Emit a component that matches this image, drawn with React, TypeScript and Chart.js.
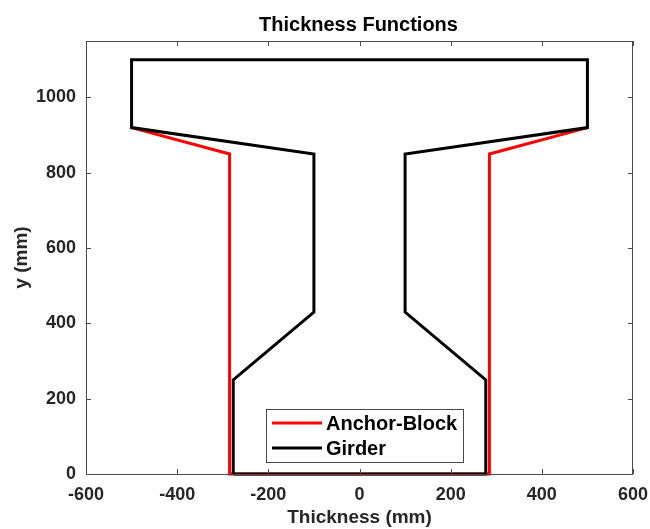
import React, { useEffect, useRef } from "react";
import { Chart, registerables } from "chart.js";

Chart.register(...registerables);

// ---- data ----
const seriesLabels = ["Anchor-Block", "Girder"];
const anchorX = [-500, -285, -285, 285, 285, 500];
const anchorY = [920, 850, 0, 0, 850, 920];
const girderX = [-277, -277, -100, -100, -500, -500, 500, 500, 100, 100, 277, 277, -277];
const girderY = [0, 250, 430, 850, 920, 1100, 1100, 920, 850, 430, 250, 0, 0];
const xRange = [-600, 600];
const yRange = [0, 1150];
const tickStep = 200;
const titleText = "Thickness Functions";
const xTitle = "Thickness (mm)";
const yTitle = "y (mm)";

const FONT = "'Liberation Sans', Arial, Helvetica, sans-serif";
const TEXT = "#262626";
const AXIS = "#4a4a4a";

const toPoints = (xs: number[], ys: number[]) => xs.map((x, i) => ({ x, y: ys[i] }));

const framePlugin = {
  id: "matlabFrame",
  afterDraw(chart: any) {
    const { ctx, chartArea: a, scales } = chart;
    ctx.save();
    // frame
    ctx.strokeStyle = AXIS;
    ctx.lineWidth = 1;
    ctx.strokeRect(a.left + 0.5, a.top + 0.5, a.right - a.left - 1, a.bottom - a.top);
    // inward ticks
    const tl = 5;
    ctx.beginPath();
    scales.x.ticks.forEach((t: any) => {
      const px = Math.round(scales.x.getPixelForValue(t.value)) + 0.5;
      ctx.moveTo(px, a.bottom);
      ctx.lineTo(px, a.bottom - tl);
      ctx.moveTo(px, a.top);
      ctx.lineTo(px, a.top + tl);
    });
    scales.y.ticks.forEach((t: any) => {
      const py = Math.round(scales.y.getPixelForValue(t.value)) + 0.5;
      ctx.moveTo(a.left, py);
      ctx.lineTo(a.left + tl, py);
      ctx.moveTo(a.right, py);
      ctx.lineTo(a.right - tl, py);
    });
    ctx.stroke();

    // title
    ctx.fillStyle = "#000";
    ctx.font = `bold 20px ${FONT}`;
    ctx.textAlign = "center";
    ctx.textBaseline = "alphabetic";
    ctx.fillText(titleText, (a.left + a.right) / 2 - 1, 31);

    // legend box
    const lx = 266.5, ly = 409.5, lw = 197, lh = 53;
    ctx.fillStyle = "#fff";
    ctx.fillRect(lx, ly, lw, lh);
    ctx.strokeStyle = AXIS;
    ctx.lineWidth = 1;
    ctx.strokeRect(lx, ly, lw, lh);
    const rows = [423, 448];
    chart.data.datasets.forEach((ds: any, i: number) => {
      const y = rows[i];
      ctx.strokeStyle = ds.borderColor;
      ctx.lineWidth = 3;
      ctx.beginPath();
      ctx.moveTo(272, y);
      ctx.lineTo(322, y);
      ctx.stroke();
      ctx.fillStyle = "#000";
      ctx.font = `bold 20px ${FONT}`;
      ctx.textAlign = "left";
      ctx.textBaseline = "middle";
      ctx.fillText(ds.label, 326, y + 1);
    });
    ctx.restore();
  },
};

export default function App() {
  const ref = useRef<HTMLCanvasElement | null>(null);
  useEffect(() => {
    document.body.style.margin = "0";
    const canvas = ref.current;
    if (!canvas) return;
    const chart = new Chart(canvas, {
      type: "line",
      data: {
        datasets: [
          {
            label: seriesLabels[0],
            data: toPoints(anchorX, anchorY),
            borderColor: "#ff0000",
            borderWidth: 3,
            pointRadius: 0,
            fill: false,
            tension: 0,
            clip: false as any,
            order: 1,
          },
          {
            label: seriesLabels[1],
            data: toPoints(girderX, girderY),
            borderColor: "#000000",
            borderWidth: 3,
            pointRadius: 0,
            fill: false,
            tension: 0,
            clip: false as any,
            order: 0,
          },
        ],
      },
      options: {
        animation: false,
        responsive: false,
        devicePixelRatio: 1,
        parsing: false as any,
        layout: { padding: { top: 41, right: 17, left: 0, bottom: 0 } },
        plugins: {
          legend: { display: false },
          tooltip: { enabled: false },
          title: { display: false },
        },
        scales: {
          x: {
            type: "linear",
            min: xRange[0],
            max: xRange[1],
            grid: { display: false, drawTicks: false },
            border: { display: false },
            ticks: {
              stepSize: tickStep,
              autoSkip: false,
              maxRotation: 0,
              padding: 10,
              color: TEXT,
              font: { family: FONT, size: 18, weight: "bold" },
              callback: (v: any) => String(v),
            },
            title: {
              display: true,
              text: xTitle,
              color: TEXT,
              padding: { top: 0, bottom: 0 },
              font: { family: FONT, size: 19, weight: "bold" },
            },
            afterFit: (s: any) => {
              s.height = 55;
              s.paddingLeft = 0;
              s.paddingRight = 0;
            },
          },
          y: {
            type: "linear",
            min: yRange[0],
            max: yRange[1],
            grid: { display: false, drawTicks: false },
            border: { display: false },
            ticks: {
              stepSize: tickStep,
              includeBounds: false,
              autoSkip: false,
              padding: 10,
              color: TEXT,
              font: { family: FONT, size: 18, weight: "bold" },
              callback: (v: any) => String(v),
            },
            title: {
              display: true,
              text: yTitle,
              color: TEXT,
              padding: { top: 10, bottom: 0 },
              font: { family: FONT, size: 19, weight: "bold" },
            },
            afterFit: (s: any) => {
              s.width = 86;
              s.paddingTop = 0;
              s.paddingBottom = 0;
            },
          },
        },
      },
      plugins: [framePlugin],
    });
    return () => chart.destroy();
  }, []);
  return (
    <div style={{ position: "fixed", left: 0, top: 0, width: 650, height: 529, background: "#fff" }}>
      <canvas ref={ref} width={650} height={529} style={{ width: 650, height: 529 }} />
    </div>
  );
}
